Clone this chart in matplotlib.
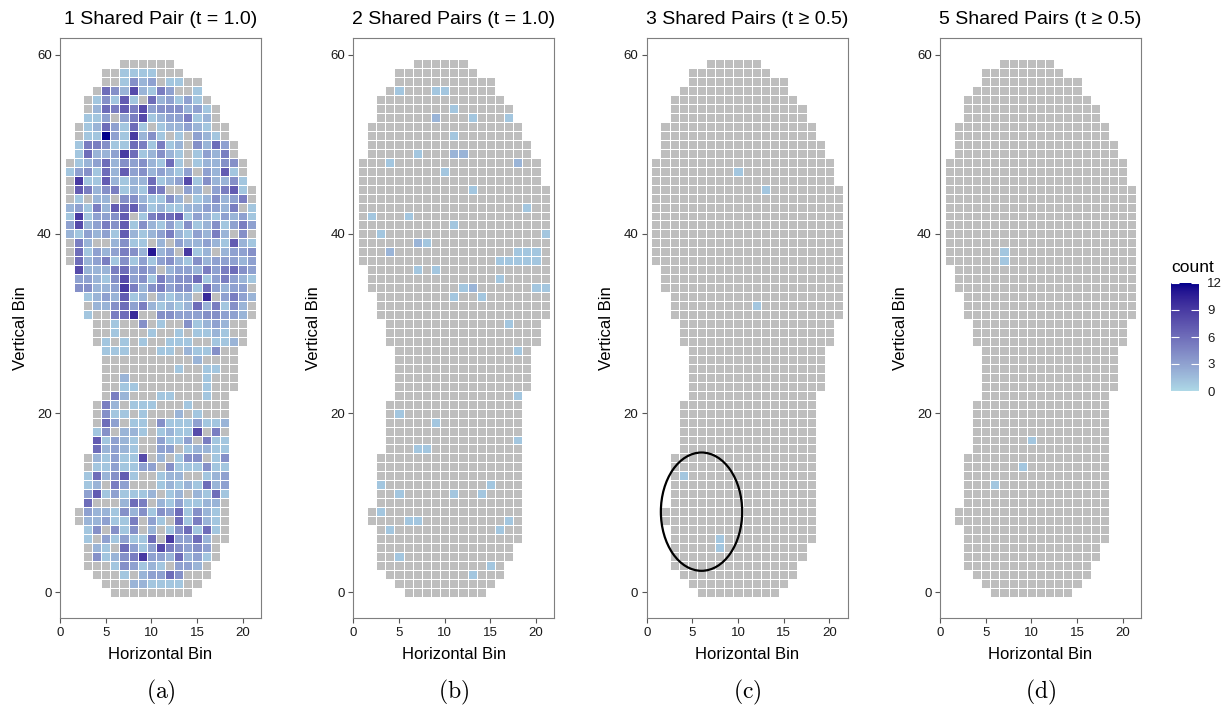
import numpy as np
import matplotlib
matplotlib.use("Agg")
import matplotlib.pyplot as plt
from matplotlib.colors import ListedColormap, Normalize, to_rgb, to_rgba
from matplotlib.cm import ScalarMappable
from matplotlib.patches import Ellipse

plt.rcParams['font.family'] = ['Liberation Sans', 'DejaVu Sans']
plt.rcParams['mathtext.fontset'] = 'cm'

# counts per bin for the 1-pair panel, top row (y = 59) first, columns x = 1..21
# '.' = outside the footprint, hex digit = count (0..12)
counts_1pair = [
    "......000000.........",  # 59
    "....001111000........",
    "....00142301100......",
    "...064282153001......",
    "..01417106231310.....",
    "..026575834442310....",
    "..113035812335120....",
    ".01263161012232100...",
    ".011c3192410103210...",
    ".155411651512042630..",
    ".162239612421013250..",  # 49
    "01236243421610122440.",
    "13416273423213032710.",
    "09117212261238142241.",
    "075245121650032035710",
    "010220442114201242350",
    "231527673121122332501",
    "191334701566713213231",
    "382354714213141241353",
    "213231721235213252040",
    "052002411020322321721",  # 39
    "061323542b23091202334",
    "062351413134214233323",
    ".82225634302332535643",
    ".33214834153446135321",
    ".44223952453441632330",
    "..1232712021220a03532",
    "..0224635212126251420",
    "..10056a0044333443320",
    "...00100401004123200.",
    "...00100010010112100.",  # 29
    "...01010100111001120.",
    "....111000110211400..",
    "....000000000020000..",
    "....000000001001100..",
    "....002000000001000..",
    "....001100000001000..",
    "....05200011000100...",
    "...052011100010000...",
    "...041101000201000...",
    "...063011041113112...",  # 19
    "...140221012118050...",
    "...713210031130511...",
    "...623210033012211...",
    "..0213118020144014...",
    "..0113113304111411...",
    "..1624710012200123...",
    "..1205300012121623...",
    "..3713111201202161...",
    "..6000265021311220...",
    ".03221424143614210...",  # 9
    ".02231150310615210...",
    "..1404140201461610...",
    "..1031311609336200...",
    "..021063138543430....",
    "..041245933262310....",
    "..00014312103320.....",
    "...0001023364000.....",
    "....00022111100......",
    ".....000000000.......",  # 0
]

# (x, y, count) of the non-empty bins in the other panels
hits_2pairs = [
    (5, 56, 1), (9, 56, 1), (10, 56, 1), (11, 54, 1), (9, 53, 2), (13, 53, 1),
    (17, 53, 1), (11, 51, 1), (7, 49, 1), (11, 49, 2), (12, 49, 2), (4, 48, 1),
    (18, 48, 2), (10, 47, 1), (13, 45, 1), (19, 43, 1), (2, 42, 1), (6, 42, 1),
    (11, 41, 1), (3, 40, 1), (21, 40, 1), (7, 39, 2), (8, 39, 1), (4, 38, 2),
    (18, 38, 1), (19, 38, 1), (20, 38, 1), (16, 37, 1), (17, 37, 1), (18, 37, 1),
    (19, 37, 1), (20, 37, 1), (7, 36, 1), (9, 36, 1), (16, 35, 1), (12, 34, 1),
    (13, 34, 2), (20, 34, 1), (21, 34, 1), (11, 33, 1), (14, 33, 1), (17, 30, 1),
    (18, 27, 1), (18, 22, 1), (5, 20, 1), (9, 19, 1), (18, 17, 1), (7, 16, 1),
    (8, 16, 1), (3, 12, 1), (15, 12, 1), (5, 11, 1), (11, 11, 1), (14, 11, 1),
    (3, 9, 1), (6, 8, 1), (7, 8, 1), (17, 8, 1), (4, 7, 1), (16, 7, 1),
    (5, 4, 1), (15, 3, 1), (13, 2, 1),
]
hits_3pairs = [(10, 47, 1), (13, 45, 1), (12, 32, 1), (4, 13, 1), (8, 6, 1), (8, 5, 1)]
hits_5pairs = [(7, 38, 1), (7, 37, 1), (10, 17, 1), (9, 14, 1), (6, 12, 1)]

titles = ["1 Shared Pair (t = 1.0)", "2 Shared Pairs (t = 1.0)",
          "3 Shared Pairs (t \u2265 0.5)", "5 Shared Pairs (t \u2265 0.5)"]
captions = ["(a)", "(b)", "(c)", "(d)"]
count_ticks = [0, 3, 6, 9, 12]

# ellipse drawn around the lower-left bins of panel (c)
circled = dict(x=6.0, y=9.0, w=8.9, h=13.2)

N_ROWS, N_COLS = 60, 21


# ggplot-style gradient: interpolate lightblue -> darkblue in CIE Lab
_M = np.array([[0.4124, 0.3576, 0.1805],
               [0.2126, 0.7152, 0.0722],
               [0.0193, 0.1192, 0.9505]])
_WHITE = np.array([0.95047, 1.0, 1.08883])


def to_lab(rgb):
    c = np.asarray(rgb, float)
    lin = np.where(c <= 0.04045, c / 12.92, ((c + 0.055) / 1.055) ** 2.4)
    xyz = _M @ lin / _WHITE
    f = np.where(xyz > 0.008856, np.cbrt(xyz), 7.787 * xyz + 16 / 116)
    return np.array([116 * f[1] - 16, 500 * (f[0] - f[1]), 200 * (f[1] - f[2])])


def from_lab(lab):
    fy = (lab[0] + 16) / 116
    f = np.array([fy + lab[1] / 500, fy, fy - lab[2] / 200])
    xyz = np.where(f ** 3 > 0.008856, f ** 3, (f - 16 / 116) / 7.787) * _WHITE
    lin = np.clip(np.linalg.inv(_M) @ xyz, 0, 1)
    c = np.where(lin <= 0.0031308, 12.92 * lin, 1.055 * lin ** (1 / 2.4) - 0.055)
    return np.clip(c, 0, 1)


lo, hi = to_lab(to_rgb("#ADD8E6")), to_lab(to_rgb("#00008B"))
cmap = ListedColormap([from_lab((1 - t) * lo + t * hi) for t in np.linspace(0, 1, 256)])
norm = Normalize(0, 12)
EMPTY = to_rgba("#BEBEBE")


def grid_from_rows(rows):
    g = np.full((N_ROWS, N_COLS), np.nan)
    for i, row in enumerate(rows):
        for j, ch in enumerate(row):
            if ch != ".":
                g[N_ROWS - 1 - i, j] = int(ch, 16)
    return g


def grid_from_hits(footprint, hits):
    g = np.where(footprint, 0.0, np.nan)
    for x, y, n in hits:
        g[y, x - 1] = n
    return g


def cell_colors(g):
    rgba = np.zeros(g.shape + (4,))
    inside = ~np.isnan(g)
    rgba[inside] = EMPTY
    filled = inside & (np.nan_to_num(g) > 0)
    rgba[filled] = cmap(norm(g[filled]))
    return rgba


grid_a = grid_from_rows(counts_1pair)
footprint = ~np.isnan(grid_a)
grids = [grid_a,
         grid_from_hits(footprint, hits_2pairs),
         grid_from_hits(footprint, hits_3pairs),
         grid_from_hits(footprint, hits_5pairs)]

xedges = np.arange(N_COLS + 1) + 0.5
yedges = np.arange(N_ROWS + 1) - 0.5

W, H = 1225, 712
fig = plt.figure(figsize=(W / 100, H / 100), dpi=100)
lefts = [60, 353.3, 646.7, 940]
ax_w, ax_top, ax_bot = 201, 37.7, 618.3

for k, g in enumerate(grids):
    ax = fig.add_axes([lefts[k] / W, (H - ax_bot) / H, ax_w / W, (ax_bot - ax_top) / H])
    ax.pcolormesh(xedges, yedges, cell_colors(g), edgecolors="white", linewidth=0.6)
    ax.set_xlim(0, 22)
    ax.set_ylim(-2.9, 61.9)
    ax.set_xticks([0, 5, 10, 15, 20])
    ax.set_yticks([0, 20, 40, 60])
    for s in ax.spines.values():
        s.set_color("#7f7f7f")
        s.set_linewidth(0.8)
    ax.tick_params(colors="#555555", labelcolor="#1a1a1a", labelsize=9.5,
                   length=3.5, width=0.8, pad=2.5)
    ax.set_title(titles[k], fontsize=14, pad=10)
    ax.set_xlabel("Horizontal Bin", fontsize=12)
    ax.set_ylabel("Vertical Bin", fontsize=12)
    ax.xaxis.set_label_coords(0.5, -0.063)
    ax.xaxis.label.set_va("center")
    ax.yaxis.set_label_coords(-0.199, 0.5)
    ax.yaxis.label.set_va("center")
    if k == 2:
        ax.add_patch(Ellipse((circled["x"], circled["y"]), circled["w"], circled["h"],
                             fill=False, edgecolor="black", linewidth=1.6))
    fig.text((lefts[k] + ax_w / 2) / W, (H - 692) / H, r"$\mathrm{" + captions[k] + "}$",
             fontsize=17, ha="center", va="center")

# shared colour legend
cax = fig.add_axes([1171 / W, (H - 391) / H, 28 / W, 108 / H])
cb = fig.colorbar(ScalarMappable(norm=norm, cmap=cmap), cax=cax, ticks=count_ticks)
cb.outline.set_visible(False)
cax.tick_params(direction="in", color="white", labelcolor="#1a1a1a", length=5.5,
                width=0.8, left=True, right=True, labelsize=9.5, pad=6)
fig.text(1171 / W, (H - 267) / H, "count", fontsize=12.5, ha="left", va="center")

fig.savefig("out.png", dpi=100)
